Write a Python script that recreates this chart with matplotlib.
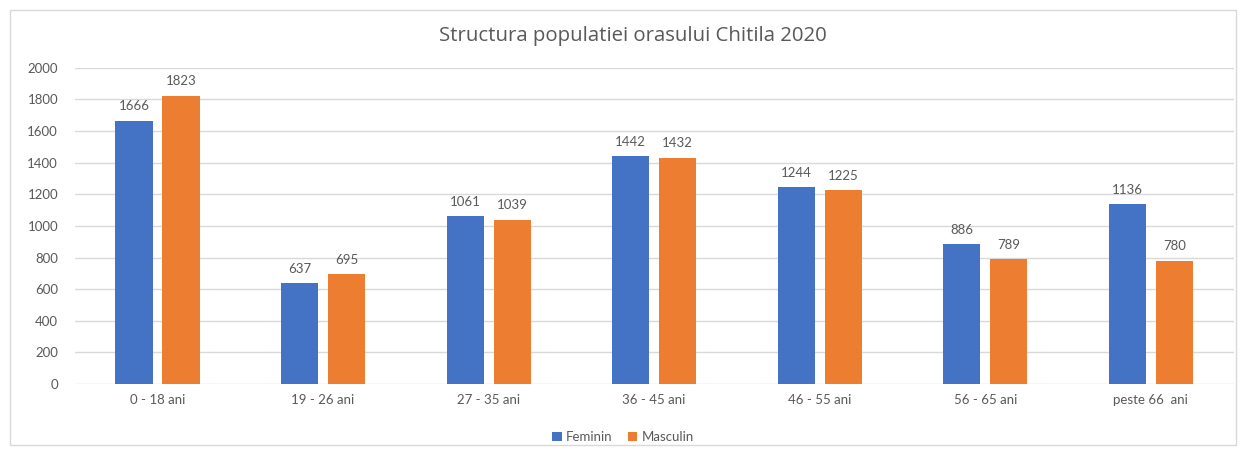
# structura populatiei Chitila 2020 - bare grupate pe varste
import numpy as np
import matplotlib
matplotlib.use('Agg')
import matplotlib.pyplot as plt
from matplotlib.patches import Rectangle

plt.rcParams['font.family'] = ['Lato', 'DejaVu Sans']

categories = ['0 - 18 ani', '19 - 26 ani', '27 - 35 ani', '36 - 45 ani',
              '46 - 55 ani', '56 - 65 ani', 'peste 66  ani']
feminin = [1666, 637, 1061, 1442, 1244, 886, 1136]
masculin = [1823, 695, 1039, 1432, 1225, 789, 780]

text_col = '#595959'
fig = plt.figure(figsize=(12.46, 4.55), dpi=100)
ax = fig.add_axes([0.060, 0.156, 0.930, 0.695])

x = np.arange(len(categories))
w = 0.224
off = 0.142
b1 = ax.bar(x - off, feminin, w, color='#4472C4', label='Feminin', zorder=3)
b2 = ax.bar(x + off, masculin, w, color='#ED7D31', label='Masculin', zorder=3)
for bars in (b1, b2):
    ax.bar_label(bars, padding=6, fontsize=9.5, color=text_col)

ax.set_ylim(0, 2000)
ax.set_yticks(range(0, 2001, 200))
ax.set_xlim(-0.5, len(categories) - 0.5)
ax.set_xticks(x)
ax.set_xticklabels(categories)
ax.tick_params(axis='both', length=0, labelsize=9.5, colors=text_col)
ax.tick_params(axis='x', pad=7)
ax.tick_params(axis='y', pad=12)
ax.grid(axis='y', color='#D9D9D9', linewidth=1, zorder=0)
for s in ax.spines.values():
    s.set_visible(False)

fig.text(0.508, 0.92, 'Structura populatiei orasului Chitila 2020', ha='center',
         va='center', fontsize=14.7, color=text_col,
         family=['Open Sans', 'DejaVu Sans'])
fig.legend(loc='center', bbox_to_anchor=(0.5, 0.04), ncol=2, frameon=False,
           fontsize=9.5, labelcolor=text_col, handlelength=0.7, handleheight=0.7,
           handletextpad=0.3, columnspacing=1.2)

fig.patches.append(Rectangle((10 / 1246, 10 / 455), 1226 / 1246, 435 / 455,
                             transform=fig.transFigure, fill=False,
                             edgecolor='#D9D9D9', linewidth=1))

fig.savefig('out.png', dpi=100)
